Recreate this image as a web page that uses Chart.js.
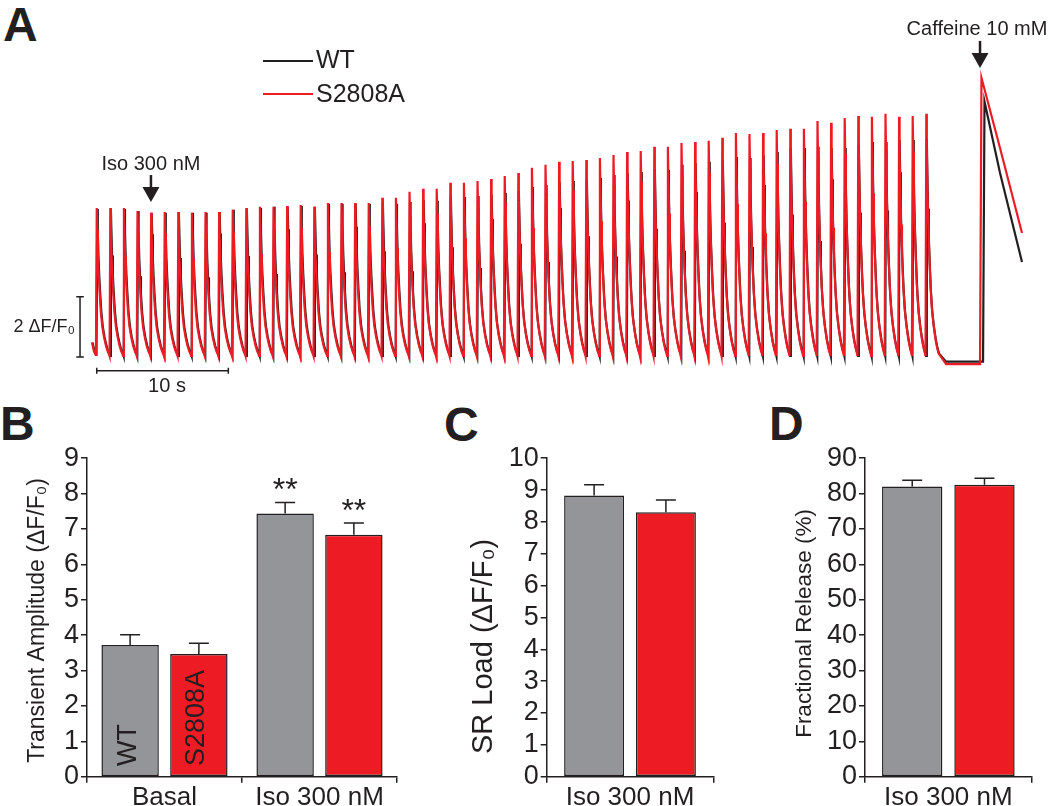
<!DOCTYPE html>
<html>
<head>
<meta charset="utf-8">
<script src="https://cdn.jsdelivr.net/npm/chart.js@4.4.1/dist/chart.umd.min.js"></script>
<style>
  body { margin: 0; background: #fff; width: 1050px; height: 806px; position: relative; overflow: hidden; }
  canvas { position: absolute; }
  .panel { position: absolute; font-family: "Liberation Sans", Arial, sans-serif; font-weight: bold; font-size: 48px; line-height: 1; color: #231F20; }
</style>
</head>
<body>
<div class="panel" style="left:3px;top:1px">A</div>
<div class="panel" style="left:0px;top:400px">B</div>
<div class="panel" style="left:444px;top:401px">C</div>
<div class="panel" style="left:769px;top:400px">D</div>
<canvas id="traceChart" width="1050" height="400" style="left:0;top:0"></canvas>
<canvas id="ampChart" width="420" height="366" style="left:0;top:440px"></canvas>
<canvas id="loadChart" width="320" height="366" style="left:420px;top:440px"></canvas>
<canvas id="releaseChart" width="310" height="366" style="left:740px;top:440px"></canvas>
<script>
const FONT = "'Liberation Sans', Arial, Helvetica, sans-serif";
const INK = '#231F20';
const RED = '#ED1C24';
const GRAY = '#939598';

// ---- Panel A: field-stimulated Ca transients (dF/F0), one beat every ~1 s
const beatInterval = 1.0334;
const s2808aPeaks = [4.93, 4.93, 4.93, 4.83, 4.77, 4.8, 4.8, 4.77, 4.8, 4.8,
  4.87, 4.93, 4.97, 4.97, 5.0, 5.03, 4.97, 5.1, 5.1, 5.1,
  5.1, 5.27, 5.27, 5.47, 5.57, 5.57, 5.77, 5.77, 5.83, 5.9,
  6.0, 6.1, 6.27, 6.37, 6.47, 6.5, 6.53, 6.6, 6.7, 6.8,
  6.83, 6.97, 6.97, 7.1, 7.13, 7.17, 7.27, 7.43, 7.4, 7.43,
  7.53, 7.57, 7.57, 7.83, 7.77, 7.93, 8.0, 7.97, 8.07, 7.97,
  8.0, 8.07];
const wtPeaks = [4.9, 4.93, 4.9, 4.83, 4.77, 4.77, 4.8, 4.77, 4.77, 4.8,
  4.87, 4.9, 4.93, 4.97, 4.97, 5.0, 4.97, 5.07, 5.07, 5.07,
  5.07, 5.13, 5.07, 5.13, 5.2, 5.17, 5.33, 5.3, 5.33, 5.37,
  5.43, 5.5, 5.63, 5.7, 5.8, 5.83, 5.87, 5.93, 6.03, 6.1,
  6.13, 6.23, 6.2, 6.37, 6.43, 6.47, 6.53, 6.63, 6.6, 6.7,
  6.8, 6.93, 6.93, 6.97, 6.93, 6.93, 7.03, 7.13, 7.13, 7.2,
  7.2, 7.23];
// shape of one transient (time from stimulus in s, fraction of peak)
const shapeT = [0, 0.06, 0.1, 0.15, 0.21, 0.28, 0.37, 0.48, 0.61, 0.76, 0.9, 1.0];
const shapeV = [0, 1, 0.85, 0.68, 0.55, 0.43, 0.3, 0.2, 0.13, 0.07, 0.03, 0.01];
// tail of the beat before the recording starts
const leadT = [-0.3, -0.15, 0];
const leadV = [0.45, 0.15, 0.02];
const restStart = 64.6;
// caffeine response
const cafS2808aT = [67.18, 67.29, 68.7, 70.37];
const cafS2808aV = [-0.27, 9.27, 6.93, 4.1];
const cafWtT = [67.41, 67.52, 68.7, 70.37];
const cafWtV = [-0.19, 8.48, 6.1, 3.13];
// markers
const markerLabels = ['Iso 300 nM', 'Caffeine 10 mM'];
const markerTimes = [4.18, 67.18];
const markerLevels = [5.13, 9.6];

// ---- Panels B-D
const ampCategories = ['Basal', 'Iso 300 nM'];
const wtAmp = [3.72, 7.44];
const wtAmpSem = [0.29, 0.31];
const wtAmpSig = ['', '**'];
const s2808aAmp = [3.47, 6.84];
const s2808aAmpSem = [0.30, 0.33];
const s2808aAmpSig = ['', '**'];

const isoCategory = ['Iso 300 nM'];
const wtLoad = [8.83];
const wtLoadSem = [0.34];
const s2808aLoad = [8.30];
const s2808aLoadSem = [0.39];

const wtRelease = [82.0];
const wtReleaseSem = [1.8];
const s2808aRelease = [82.5];
const s2808aReleaseSem = [1.8];

Chart.defaults.font.family = FONT;
Chart.defaults.color = INK;

function buildTrace(peaks, lag, cafT, cafV) {
  const pts = [];
  leadT.forEach((t, k) => pts.push({x: t + lag, y: leadV[k]}));
  peaks.forEach((amp, i) => {
    const t0 = i * beatInterval + lag;
    shapeT.forEach((dt, k) => pts.push({x: t0 + dt, y: amp * shapeV[k]}));
  });
  pts.push({x: restStart, y: cafV[0]});
  cafT.forEach((t, k) => pts.push({x: t, y: cafV[k]}));
  return pts;
}

function drawArrow(ctx, x, tipY) {
  ctx.beginPath();
  ctx.moveTo(x, tipY - 27);
  ctx.lineTo(x, tipY - 12);
  ctx.lineWidth = 2.5;
  ctx.stroke();
  ctx.beginPath();
  ctx.moveTo(x - 8.5, tipY - 15);
  ctx.lineTo(x + 8.5, tipY - 15);
  ctx.lineTo(x, tipY);
  ctx.closePath();
  ctx.fill();
}

const traceDecor = {
  id: 'traceDecor',
  afterDraw(chart) {
    const {ctx, scales: {x, y}} = chart;
    ctx.save();
    ctx.fillStyle = INK;
    ctx.strokeStyle = INK;

    // legend
    ctx.lineWidth = 2;
    ctx.beginPath(); ctx.moveTo(263, 61); ctx.lineTo(313, 61); ctx.stroke();
    ctx.strokeStyle = RED;
    ctx.beginPath(); ctx.moveTo(263, 94); ctx.lineTo(313, 94); ctx.stroke();
    ctx.strokeStyle = INK;
    ctx.font = '25px ' + FONT;
    ctx.textAlign = 'left';
    ctx.textBaseline = 'middle';
    ctx.fillText('WT', 316, 61);
    ctx.fillText('S2808A', 316, 95);

    // drug markers
    ctx.font = '20px ' + FONT;
    ctx.textAlign = 'center';
    markerTimes.forEach((t, i) => {
      const px = x.getPixelForValue(t);
      const tip = y.getPixelForValue(markerLevels[i]);
      drawArrow(ctx, px, tip);
      ctx.fillText(markerLabels[i], px - (i === 1 ? 3 : 0), tip - 38);
    });

    // scale bar labels
    ctx.font = '18px ' + FONT;
    ctx.textAlign = 'right';
    ctx.fillText('2 \u0394F/F\u2080', x.getPixelForValue(-1.21) - 5, y.getPixelForValue(0.97));
    ctx.font = '20px ' + FONT;
    ctx.textAlign = 'center';
    ctx.fillText('10 s', x.getPixelForValue(5.4), y.getPixelForValue(-0.49) + 16);
    ctx.restore();
  }
};

new Chart(document.getElementById('traceChart'), {
  type: 'line',
  data: {
    datasets: [{
      label: 'bars',
      data: [
        {x: -1.21, y: -0.03}, {x: -1.21, y: 1.97}, {x: null, y: null},
        {x: -1.5, y: 1.97}, {x: -0.92, y: 1.97}, {x: null, y: null},
        {x: -1.5, y: -0.03}, {x: -0.92, y: -0.03}, {x: null, y: null},
        {x: 0.06, y: -0.49}, {x: 10.06, y: -0.49}, {x: null, y: null},
        {x: 0.06, y: -0.39}, {x: 0.06, y: -0.59}, {x: null, y: null},
        {x: 10.06, y: -0.39}, {x: 10.06, y: -0.59}
      ],
      borderColor: INK,
      borderWidth: 1.5,
      spanGaps: false,
      clip: false,
      order: 0
    }, {
      label: 'S2808A',
      data: buildTrace(s2808aPeaks, 0, cafS2808aT, cafS2808aV),
      borderColor: RED,
      borderWidth: 2.2,
      clip: false,
      order: 1
    }, {
      label: 'WT',
      data: buildTrace(wtPeaks, 0.04, cafWtT, cafWtV),
      borderColor: INK,
      borderWidth: 2.2,
      clip: false,
      order: 2
    }]
  },
  options: {
    responsive: false,
    animation: false,
    events: [],
    layout: {padding: {left: 92, right: 28, top: 70, bottom: 20}},
    elements: {point: {radius: 0}, line: {tension: 0}},
    plugins: {legend: {display: false}, tooltip: {enabled: false}},
    scales: {
      x: {type: 'linear', min: -0.3, max: 70.37, display: false},
      y: {min: -0.8, max: 9.53, display: false}
    }
  },
  plugins: [traceDecor]
});

// error bars, significance stars, in-bar names and the y-axis title
const barExtras = {
  id: 'barExtras',
  afterDatasetsDraw(chart, args, opts) {
    const ctx = chart.ctx;
    const yScale = chart.scales.y;
    ctx.save();
    ctx.strokeStyle = INK;
    ctx.fillStyle = INK;
    ctx.lineWidth = 1.5;
    chart.data.datasets.forEach((ds, di) => {
      chart.getDatasetMeta(di).data.forEach((bar, i) => {
        const top = yScale.getPixelForValue(ds.data[i] + ds.sem[i]);
        ctx.beginPath();
        ctx.moveTo(bar.x, bar.y);
        ctx.lineTo(bar.x, top);
        ctx.moveTo(bar.x - 10, top);
        ctx.lineTo(bar.x + 10, top);
        ctx.stroke();
        if (ds.sig && ds.sig[i]) {
          ctx.font = '32px ' + FONT;
          ctx.textAlign = 'center';
          ctx.textBaseline = 'alphabetic';
          ctx.fillText(ds.sig[i], bar.x, top - 2);
        }
        if (opts.names && i === 0) {
          ctx.save();
          ctx.translate(bar.x - 2, bar.base - 10);
          ctx.rotate(-Math.PI / 2);
          ctx.font = '27px ' + FONT;
          ctx.textAlign = 'left';
          ctx.textBaseline = 'middle';
          ctx.fillText(ds.label, 0, 0);
          ctx.restore();
        }
      });
    });
    // axis title
    ctx.save();
    ctx.translate(opts.titleX, (chart.chartArea.top + chart.chartArea.bottom) / 2 + opts.titleShift);
    ctx.rotate(-Math.PI / 2);
    ctx.font = opts.titleSize + 'px ' + FONT;
    ctx.textAlign = 'center';
    ctx.textBaseline = 'middle';
    ctx.fillText(opts.title, 0, 0);
    ctx.restore();
    ctx.restore();
  }
};

function barChart(id, categories, sets, yMax, yStep, axisW, padRight, catPct, extras) {
  return new Chart(document.getElementById(id), {
    type: 'bar',
    data: {
      labels: categories,
      datasets: sets.map(s => ({
        label: s.label,
        data: s.data,
        sem: s.sem,
        sig: s.sig,
        backgroundColor: s.color,
        borderColor: INK,
        borderWidth: 1.5,
        borderSkipped: false,
        barPercentage: 0.835,
        categoryPercentage: catPct
      }))
    },
    options: {
      responsive: false,
      animation: false,
      events: [],
      layout: {padding: {left: 0, right: padRight, top: 16.7, bottom: 0}},
      plugins: {legend: {display: false}, tooltip: {enabled: false}, barExtras: extras},
      scales: {
        x: {
          afterFit(axis) { axis.height = 29.3; },
          grid: {offset: true, drawOnChartArea: false, drawTicks: true, tickLength: 6, color: INK, lineWidth: 1.5},
          border: {display: true, color: INK, width: 1.5},
          ticks: {font: {size: 26}, color: INK, padding: 0}
        },
        y: {
          min: 0,
          max: yMax,
          afterFit(axis) { axis.width = axisW; },
          grid: {drawOnChartArea: false, drawTicks: true, tickLength: 6, color: INK, lineWidth: 1.5},
          border: {display: true, color: INK, width: 1.5},
          ticks: {stepSize: yStep, autoSkip: false, font: {size: 27}, color: INK, padding: 2}
        }
      }
    },
    plugins: [barExtras]
  });
}

barChart('ampChart', ampCategories, [
  {label: 'WT', data: wtAmp, sem: wtAmpSem, sig: wtAmpSig, color: GRAY},
  {label: 'S2808A', data: s2808aAmp, sem: s2808aAmpSem, sig: s2808aAmpSig, color: RED}
], 9, 1, 87, 23, 0.887,
  {names: true, title: 'Transient Amplitude (\u0394F/F\u2080)', titleX: 38, titleShift: 3, titleSize: 23});

barChart('loadChart', isoCategory, [
  {label: 'WT', data: wtLoad, sem: wtLoadSem, color: GRAY},
  {label: 'S2808A', data: s2808aLoad, sem: s2808aLoadSem, color: RED}
], 10, 1, 126.7, 26.7, 0.862,
  {names: false, title: 'SR Load (\u0394F/F\u2080)', titleX: 64, titleShift: 29, titleSize: 29});

barChart('releaseChart', isoCategory, [
  {label: 'WT', data: wtRelease, sem: wtReleaseSem, color: GRAY},
  {label: 'S2808A', data: s2808aRelease, sem: s2808aReleaseSem, color: RED}
], 90, 10, 125, 18.3, 0.867,
  {names: false, title: 'Fractional Release (%)', titleX: 65, titleShift: 6, titleSize: 22.5});
</script>
</body>
</html>
